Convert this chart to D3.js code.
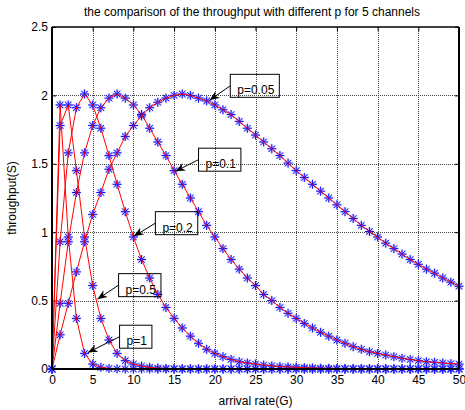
<!DOCTYPE html>
<html>
<head>
<meta charset="utf-8">
<script src="https://cdn.jsdelivr.net/npm/d3@7.9.0/dist/d3.min.js"></script>
<style>
  body { margin: 0; background: #fff; }
  svg { display: block; font-family: Arial, "Liberation Sans", sans-serif; }
</style>
</head>
<body>
<div id="chart"></div>
<script>
// DATA
const arrivalRate = [0,1,2,3,4,5,6,7,8,9,10,11,12,13,14,15,16,17,18,19,20,21,22,23,24,25,
  26,27,28,29,30,31,32,33,34,35,36,37,38,39,40,41,42,43,44,45,46,47,48,49,50];

const pLabels = ['p=0.05', 'p=0.1', 'p=0.2', 'p=0.5', 'p=1'];

const throughputP005 = [0,0.25,0.48,0.71,0.93,1.13,1.29,1.46,1.58,1.70,1.78,
  1.85,1.91,1.95,1.98,2.00,2.01,2.00,1.98,1.96,1.93,
  1.895,1.86,1.81,1.76,1.71,1.66,1.61,1.56,1.505,1.45,
  1.40,1.35,1.30,1.25,1.20,1.15,1.10,1.05,1.005,0.965,
  0.92,0.88,0.84,0.80,0.765,0.73,0.70,0.665,0.635,0.605];

const throughputP01 = [0,0.48,0.93,1.29,1.58,1.78,1.91,1.98,2.01,1.98,1.93,
  1.86,1.76,1.66,1.56,1.45,1.35,1.25,1.15,1.05,0.965,
  0.88,0.80,0.73,0.665,0.61,0.545,0.50,0.45,0.407,0.37,
  0.333,0.30,0.268,0.24,0.212,0.188,0.163,0.144,0.126,0.114,
  0.102,0.09,0.078,0.07,0.061,0.053,0.049,0.044,0.039,0.036];

const throughputP02 = [0,0.93,1.58,1.91,2.01,1.93,1.76,1.56,1.35,1.15,0.965,
  0.80,0.665,0.545,0.45,0.37,0.30,0.24,0.188,0.144,0.114,
  0.09,0.07,0.053,0.044,0.036,0.029,0.023,0.018,0.015,0.012,
  0.01,0.008,0.006,0.005,0.004,0.003,0.002,0.002,0.002,0.001,
  0.001,0.001,0.001,0.001,0.001,0.001,0.001,0.001,0.001,0.001];

const throughputP05 = [0,1.78,1.93,1.45,0.965,0.61,0.37,0.212,0.114,0.061,0.036,
  0.021,0.012,0.007,0.004,0.002,0.001,0.001,0,0,0,
  0,0,0,0,0,0,0,0,0,0,
  0,0,0,0,0,0,0,0,0,0,
  0,0,0,0,0,0,0,0,0,0];

const throughputP1 = [0,1.93,0.965,0.37,0.114,0.036,0.012,0.004,0.001,0,0,
  0,0,0,0,0,0,0,0,0,0,
  0,0,0,0,0,0,0,0,0,0,
  0,0,0,0,0,0,0,0,0,0,
  0,0,0,0,0,0,0,0,0,0];

const xTicks = [0,5,10,15,20,25,30,35,40,45,50];
const yTicks = [0,0.5,1,1.5,2,2.5];
const yTickLabels = ['0','0.5','1','1.5','2','2.5'];

const series = [throughputP005, throughputP01, throughputP02, throughputP05, throughputP1];

// annotation arrows: tail/head in data units
const notes = [
  { label: pLabels[0], tail: [21.9, 2.07], head: [19.35, 1.965] },
  { label: pLabels[1], tail: [18.0, 1.53], head: [15.15, 1.445] },
  { label: pLabels[2], tail: [12.7, 1.066], head: [10.05, 0.97] },
  { label: pLabels[3], tail: [8.18, 0.613], head: [5.57, 0.51] },
  { label: pLabels[4], tail: [8.3, 0.236], head: [4.4, 0.12] },
];

const width = 465;
const height = 410;

const svg = d3.select('#chart')
  .append('svg')
  .attr('width', width)
  .attr('height', height);

svg.append('rect').attr('width', width).attr('height', height).attr('fill', '#fff');

const x = d3.scaleLinear().domain([0, 50]).range([52, 459]);
const y = d3.scaleLinear().domain([0, 2.5]).range([369, 27]);

const [x0, x1] = x.range();
const [y0, y1] = y.range();

// GRID
const grid = svg.append('g')
  .attr('stroke', '#444')
  .attr('stroke-width', 1)
  .attr('stroke-dasharray', '1,1');

grid.selectAll('line.v')
  .data(xTicks.slice(1, -1))
  .join('line')
  .attr('x1', d => Math.round(x(d)) + 0.5)
  .attr('x2', d => Math.round(x(d)) + 0.5)
  .attr('y1', y1)
  .attr('y2', y0);

grid.selectAll('line.h')
  .data(yTicks.slice(1, -1))
  .join('line')
  .attr('x1', x0)
  .attr('x2', x1)
  .attr('y1', d => Math.round(y(d)) + 0.5)
  .attr('y2', d => Math.round(y(d)) + 0.5);

// AXES
const axisFont = g => g
  .style('font-family', 'Arial, "Liberation Sans", sans-serif')
  .style('font-size', '12px');

svg.append('g')
  .attr('transform', `translate(0,${y0})`)
  .call(d3.axisBottom(x).tickValues(xTicks).tickSize(-4).tickPadding(6))
  .call(axisFont)
  .call(g => g.select('.domain').remove());

svg.append('g')
  .attr('transform', `translate(${x0},0)`)
  .call(d3.axisLeft(y).tickValues(yTicks)
    .tickFormat((d, i) => yTickLabels[i]).tickSize(-4).tickPadding(4))
  .call(axisFont)
  .call(g => g.select('.domain').remove());

svg.append('g')
  .attr('transform', `translate(0,${y1})`)
  .call(d3.axisTop(x).tickValues(xTicks).tickSize(-4).tickFormat(''))
  .call(g => g.select('.domain').remove());

svg.append('g')
  .attr('transform', `translate(${x1},0)`)
  .call(d3.axisRight(y).tickValues(yTicks).tickSize(-4).tickFormat(''))
  .call(g => g.select('.domain').remove());

svg.selectAll('.tick text').attr('fill', '#000');
svg.selectAll('.tick line').attr('stroke', '#000');

// CURVES
const line = d3.line()
  .x((d, i) => x(arrivalRate[i]))
  .y(d => y(d));

const star = 'M-4.5,0H4.5M0,-4.5V4.5M-3.2,-3.2L3.2,3.2M-3.2,3.2L3.2,-3.2';

series.forEach(values => {
  const g = svg.append('g');
  // soft halo like the antialiased original
  g.selectAll('path.halo')
    .data(values)
    .join('path')
    .attr('class', 'halo')
    .attr('d', star)
    .attr('transform', (d, i) => `translate(${x(arrivalRate[i])},${y(d)})`)
    .attr('fill', 'none')
    .attr('stroke', '#7b7bff')
    .attr('stroke-opacity', 0.45)
    .attr('stroke-width', 2);
  g.selectAll('path.star')
    .data(values)
    .join('path')
    .attr('class', 'star')
    .attr('d', star)
    .attr('transform', (d, i) => `translate(${x(arrivalRate[i])},${y(d)})`)
    .attr('fill', 'none')
    .attr('stroke', '#1010ff')
    .attr('stroke-width', 1);
});

series.forEach(values => {
  svg.append('path')
    .datum(values)
    .attr('d', line)
    .attr('fill', 'none')
    .attr('stroke', '#ff0000')
    .attr('stroke-width', 1);
});

// BOX
svg.append('line').attr('x1', x0).attr('x2', x1).attr('y1', y1).attr('y2', y1)
  .attr('stroke', '#000').attr('stroke-width', 1.3);
svg.append('line').attr('x1', x0).attr('x2', x1).attr('y1', y0).attr('y2', y0)
  .attr('stroke', '#000').attr('stroke-width', 2);
svg.append('line').attr('x1', x0).attr('x2', x0).attr('y1', y1).attr('y2', y0)
  .attr('stroke', '#000').attr('stroke-width', 2);
svg.append('line').attr('x1', x1).attr('x2', x1).attr('y1', y1).attr('y2', y0)
  .attr('stroke', '#000').attr('stroke-width', 2);

// ANNOTATIONS
svg.append('defs').append('marker')
  .attr('id', 'head')
  .attr('viewBox', '0 0 10 8')
  .attr('refX', 10)
  .attr('refY', 4)
  .attr('markerWidth', 10)
  .attr('markerHeight', 8)
  .attr('markerUnits', 'userSpaceOnUse')
  .attr('orient', 'auto')
  .append('path')
  .attr('d', 'M0,0L10,4L0,8L3,4Z')
  .attr('fill', '#000');

notes.forEach(n => {
  const tx = x(n.tail[0]);
  const ty = y(n.tail[1]);
  const g = svg.append('g');

  g.append('line')
    .attr('x1', tx).attr('y1', ty)
    .attr('x2', x(n.head[0])).attr('y2', y(n.head[1]))
    .attr('stroke', '#000')
    .attr('stroke-width', 1)
    .attr('marker-end', 'url(#head)');

  const t = g.append('text')
    .attr('x', tx + 7)
    .attr('y', ty + 8.5)
    .style('font-size', '12px')
    .text(n.label);

  const w = t.node().getComputedTextLength();
  g.insert('rect', 'text')
    .attr('x', tx)
    .attr('y', ty - 11.5)
    .attr('width', w + 12)
    .attr('height', 23)
    .attr('fill', 'none')
    .attr('stroke', '#000')
    .attr('stroke-width', 1);
});

// LABELS
svg.append('text')
  .attr('x', 252)
  .attr('y', 16)
  .attr('text-anchor', 'middle')
  .style('font-size', '12px')
  .text('the comparison of the throughput with different p for 5 channels');

svg.append('text')
  .attr('x', (x0 + x1) / 2)
  .attr('y', 405)
  .attr('text-anchor', 'middle')
  .style('font-size', '12px')
  .text('arrival rate(G)');

svg.append('text')
  .attr('transform', `translate(16,${(y0 + y1) / 2}) rotate(-90)`)
  .attr('text-anchor', 'middle')
  .style('font-size', '12px')
  .text('throughput(S)');
</script>
</body>
</html>
